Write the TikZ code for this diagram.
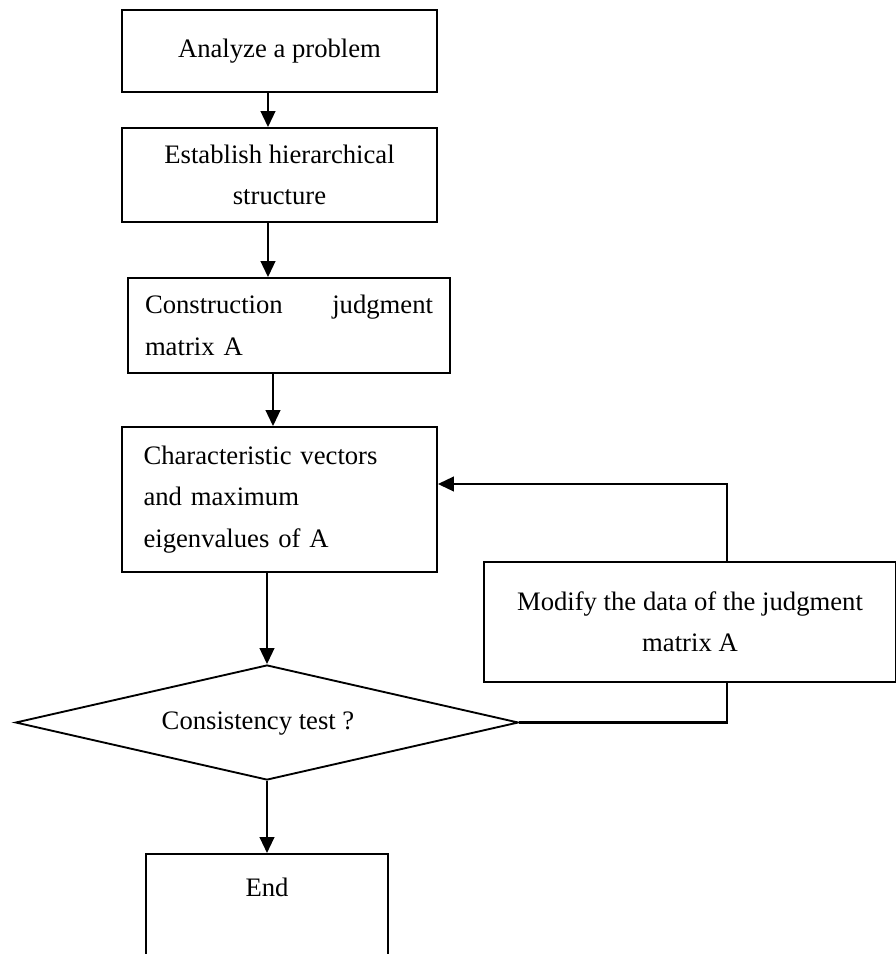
\documentclass[tikz,border=0pt]{standalone}
\usepackage{fontspec}
\setmainfont{Liberation Serif}
\usetikzlibrary{arrows.meta,shapes.geometric}

\begin{document}
\begin{tikzpicture}[x=0.75pt,y=0.75pt,yscale=-1,xscale=1,
  font=\fontsize{20}{31}\selectfont,
  box/.style={draw,line width=1.4pt,inner sep=0pt,align=center},
  arr/.style={line width=1.6pt,-{Triangle[length=12pt,width=11pt]}}]
\clip (0,0) rectangle (896,954); %diagram size, End box runs off the bottom

%Shape: Rectangle
\node[box,minimum width=236.25pt,minimum height=61.5pt] (analyze) at (279.5,51) {Analyze a problem};
%Shape: Rectangle
\node[box,minimum width=236.25pt,minimum height=70.5pt] (establish) at (279.5,175) {Establish hierarchical\\structure};
%Shape: Rectangle
\node[box,minimum width=241.5pt,minimum height=71.25pt,text width=216pt,align=left] (construct) at (289,325.5) {Construction\hfill judgment\\matrix A};
%Shape: Rectangle
\node[box,minimum width=236.25pt,minimum height=108.75pt,text width=204pt,align=left] (charact) at (279.5,499.5) {Characteristic vectors\\and maximum\\eigenvalues of A};
%Shape: Rectangle
\node[box,minimum width=309pt,minimum height=90pt] (modify) at (690,622) {Modify the data of the judgment\\matrix A};
%Shape: Diamond
\node[draw,diamond,aspect=4.4,line width=1.4pt,inner sep=0pt,minimum width=377.25pt,minimum height=86.25pt] (test) at (267,722.5) {};
% Text Node
\node (testtxt) at (258,724) {Consistency test ?};
%Shape: Rectangle
\node[box,minimum width=181.5pt,minimum height=120pt,anchor=north] (finish) at (267,853) {};
% Text Node
\node (endtxt) at (finish.north |- 0,887) {End};

% Connection
\coordinate (axis) at (268,0);
\draw[arr] (analyze.south -| axis) -- (establish.north -| axis);
\draw[arr] (establish.south -| axis) -- (construct.north -| axis);
\draw[arr] (construct.south -| 273,0) -- (charact.north -| 273,0);
\draw[arr] (charact.south -| test) -- (test.north);
\draw[arr] (test.south) -- (finish.north);
% Connection (feedback)
\coordinate (fb) at (727,484);
\draw[line width=1.6pt] (test.east) -| (modify.south -| fb);
\draw[arr] (modify.north -| fb) -- (fb) -- (fb -| charact.east);

\end{tikzpicture}
\end{document}
